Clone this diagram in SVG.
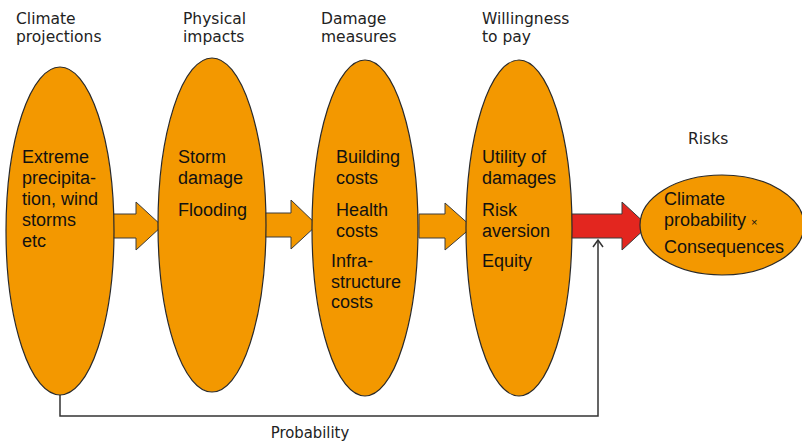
<svg xmlns="http://www.w3.org/2000/svg" width="802" height="443" viewBox="0 0 802 443">
<style>
.ell{fill:#F39800;stroke:#2a2a2a;stroke-width:1.2}
.arr{fill:#F39800;stroke:#3a3a3a;stroke-width:1}
.red{fill:#E3261F;stroke:#3a3a3a;stroke-width:1}
.hd{font-family:"DejaVu Sans",sans-serif;font-size:15.5px;fill:#222}
.tx{font-family:"Liberation Sans",Arial,sans-serif;font-size:18px;fill:#111}
.conn{fill:none;stroke:#333;stroke-width:1.5}
</style>
<defs>
<marker id="open" markerWidth="12" markerHeight="12" refX="9" refY="6" orient="auto" markerUnits="userSpaceOnUse" viewBox="0 0 12 12">
<path d="M2,1 L9,6 L2,11" fill="none" stroke="#333" stroke-width="1.5"/>
</marker>
</defs>
<g id="headings">
<text class="hd" x="16" y="24">Climate</text>
<text class="hd" x="16" y="42">projections</text>
<text class="hd" x="183" y="24">Physical</text>
<text class="hd" x="183" y="42">impacts</text>
<text class="hd" x="321" y="24">Damage</text>
<text class="hd" x="321" y="42">measures</text>
<text class="hd" x="482" y="24">Willingness</text>
<text class="hd" x="482" y="42">to pay</text>
<text class="hd" x="688" y="144">Risks</text>
</g>
<g id="connectors">
<path class="arr" d="M110,214 H136 V202 L162,226 L136,250 V238 H110 Z"/>
<path class="arr" d="M265,213 H291 V200 L317,225 L291,249 V237 H265 Z"/>
<path class="arr" d="M419,214 H445 V203 L472,227 L445,250 V238 H419 Z"/>
<path class="red" d="M571,214 H622 V202 L648,226 L622,250 V238 H571 Z"/>
<path class="conn" d="M60,395 V416 H598 V240" marker-end="url(#open)"/>
<text x="310" y="438" text-anchor="middle" font-family="DejaVu Sans Condensed, DejaVu Sans, sans-serif" font-size="16.5" fill="#222">Probability</text>
</g>
<g id="climate">
<ellipse class="ell" cx="60" cy="231" rx="54" ry="164"/>
<text class="tx" x="22" y="163">Extreme</text>
<text class="tx" x="22" y="184">precipita-</text>
<text class="tx" x="22" y="205">tion, wind</text>
<text class="tx" x="22" y="226">storms</text>
<text class="tx" x="22" y="247">etc</text>
</g>
<g id="physical">
<ellipse class="ell" cx="212" cy="225" rx="54" ry="167"/>
<text class="tx" x="178" y="163">Storm</text>
<text class="tx" x="178" y="184">damage</text>
<text class="tx" x="178" y="216">Flooding</text>
</g>
<g id="damage">
<ellipse class="ell" cx="365" cy="228" rx="53" ry="168"/>
<text class="tx" x="336" y="163">Building</text>
<text class="tx" x="336" y="184">costs</text>
<text class="tx" x="336" y="216">Health</text>
<text class="tx" x="336" y="237">costs</text>
<text class="tx" x="331" y="267">Infra-</text>
<text class="tx" x="331" y="288">structure</text>
<text class="tx" x="331" y="308">costs</text>
</g>
<g id="wtp">
<ellipse class="ell" cx="519" cy="228" rx="53" ry="168"/>
<text class="tx" x="482" y="163">Utility of</text>
<text class="tx" x="482" y="184">damages</text>
<text class="tx" x="482" y="216">Risk</text>
<text class="tx" x="482" y="237">aversion</text>
<text class="tx" x="482" y="267">Equity</text>
</g>
<g id="risks">
<ellipse class="ell" cx="722" cy="225" rx="82" ry="50"/>
<text class="tx" x="664" y="205">Climate</text>
<text class="tx" x="664" y="226">probability <tspan font-size="11">×</tspan></text>
<text class="tx" x="664" y="253">Consequences</text>
</g>
</svg>
